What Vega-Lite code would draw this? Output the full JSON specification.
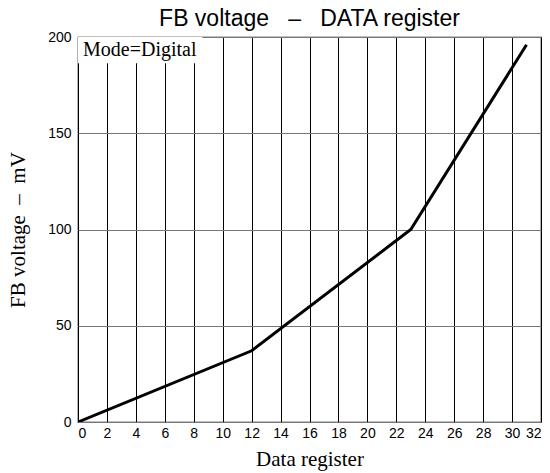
{
  "$schema": "https://vega.github.io/schema/vega-lite/v6.json",
  "width": 463,
  "height": 385,
  "autosize": "none",
  "padding": {"left": 78, "top": 37, "right": 9, "bottom": 51},
  "background": "white",
  "config": {"view": {"stroke": "black", "strokeWidth": 1.2}},
  "title": {"text": "FB voltage\u00a0\u00a0\u00a0–\u00a0\u00a0\u00a0DATA register", "font": "Liberation Sans", "fontSize": 23, "fontWeight": "normal", "color": "black", "anchor": "middle", "offset": -1},
  "datasets": {
    "curve": [
      {"x": 0, "y": 0},
      {"x": 12, "y": 37},
      {"x": 23, "y": 100},
      {"x": 31, "y": 196}
    ],
    "label": [{"x": 0, "xe": 8.6, "y": 200, "ye": 186.3, "text": "Mode=Digital"}]
  },
  "encoding": {
    "x": {"field": "x", "type": "quantitative", "scale": {"domain": [0, 32], "nice": false},
      "axis": {"values": [0,2,4,6,8,10,12,14,16,18,20,22,24,26,28,30,32], "tickCount": 17, "labelOverlap": false, "title": "Data register", "titleFont": "Liberation Serif", "titleFontSize": 21, "titleFontWeight": "normal", "titleColor": "black", "titlePadding": 8,
        "labelFont": "Liberation Sans", "labelFontSize": 14, "labelColor": "black", "labelPadding": 4, "ticks": false, "domain": false,
        "grid": true, "gridColor": "black", "gridOpacity": 1, "gridWidth": 1}},
    "y": {"field": "y", "type": "quantitative", "scale": {"domain": [0, 200], "nice": false},
      "axis": {"values": [0, 50, 100, 150, 200], "labelOverlap": false, "title": "FB voltage\u00a0\u00a0–\u00a0\u00a0mV", "titleFont": "Liberation Serif", "titleFontSize": 21, "titleFontWeight": "normal", "titleColor": "black", "titlePadding": 19,
        "labelFont": "Liberation Sans", "labelFontSize": 14, "labelColor": "black", "labelPadding": 7, "ticks": false, "domain": false,
        "grid": true, "gridColor": "#777777", "gridOpacity": 1, "gridWidth": 1}}
  },
  "layer": [
    {
      "data": {"name": "curve"},
      "mark": {"type": "line", "color": "black", "strokeWidth": 3, "clip": true}
    },
    {
      "data": {"name": "label"},
      "mark": {"type": "rect", "fill": "white", "stroke": null},
      "encoding": {
        "x2": {"field": "xe"},
        "y2": {"field": "ye"}
      }
    },
    {
      "data": {"name": "label"},
      "mark": {"type": "text", "font": "Liberation Serif", "fontSize": 20, "align": "left", "baseline": "top", "dx": 5, "dy": 3, "color": "black"},
      "encoding": {
        "text": {"field": "text"}
      }
    }
  ]
}
